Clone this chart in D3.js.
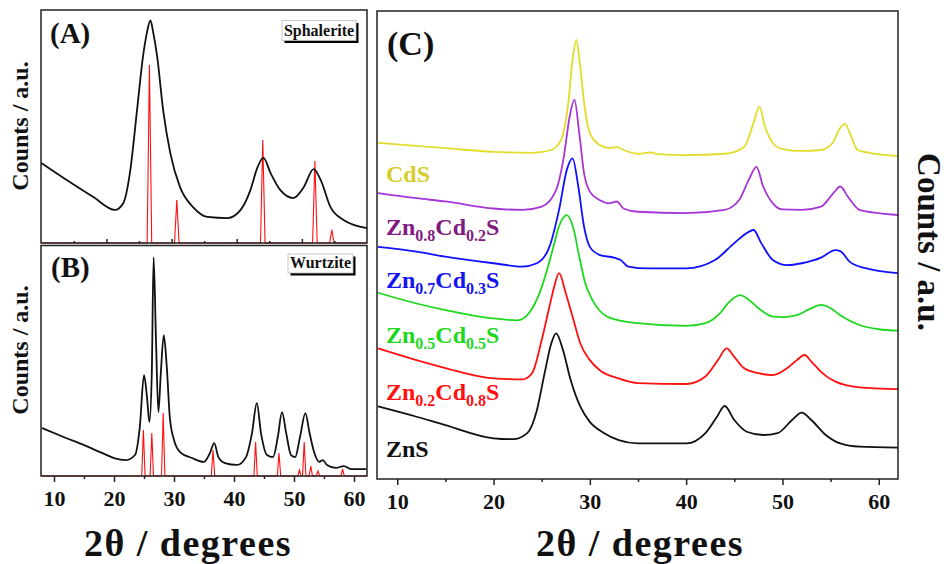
<!DOCTYPE html>
<meta charset="utf-8">
<style>
  body { margin: 0; background: #fff; }
  svg { display: block; }
  text { font-family: "Liberation Serif", "Times New Roman", serif; font-weight: bold; }
  .frame { fill: none; stroke: #222; stroke-width: 1.5px; }
  .axis path { display: none; }
  .axis line { stroke: #222; stroke-width: 1.5px; }
  .axis text { font-size: 22px; fill: #111; font-family: "Liberation Serif", "Times New Roman", serif; }
  .scan { fill: none; stroke-width: 1.8px; stroke-linejoin: round; }
  .ref { fill: none; stroke: #ff1010; stroke-width: 1.1px; }
</style>
<svg width="949" height="564"></svg>
<script src="https://d3js.org/d3.v7.min.js"></script>
<script>

  // ---- data (2theta, counts a.u.) ----

  // (A) sphalerite sample scan + reference pattern
  var sphaleriteScan = [[10, 34.3], [13.9, 27.0], [18.0, 19.7], [21.3, 14.2], [22.6, 17.2], [23.6, 30.0],
    [24.7, 57.1], [25.6, 79.8], [26.2, 90.1], [26.75, 95.5], [27.2, 90.1], [27.8, 79.8], [28.7, 57.1],
    [29.8, 38.6], [31.3, 24.0], [33.3, 15.4], [35.5, 11.2], [38.6, 10.7], [40.6, 14.2], [42.1, 22.7],
    [43.2, 32.6], [44.1, 36.5], [45.2, 30.0], [46.7, 22.7], [48.7, 19.3], [50.3, 24.0], [51.8, 31.7],
    [52.9, 27.0], [54.4, 15.4], [56.4, 9.9], [60, 6.4]];
  var sphaleriteRef = [[26.6, 76.4], [30.8, 18.4], [44.0, 44.2], [52.0, 35.2], [54.6, 5.6]];

  // (B) wurtzite sample scan + reference pattern
  var wurtziteScan = [[8, 20.8], [12, 16.5], [15, 13.4], [18, 10.0], [20, 7.8], [22, 6.9], [23.5, 9.1],
    [24.3, 21.2], [25.0, 43.7], [25.5, 34.2], [25.9, 23.4], [26.3, 44.6], [26.6, 94.8], [27.0, 58.9],
    [27.4, 27.7], [27.8, 44.6], [28.3, 61.1], [28.8, 47.2], [29.3, 25.5], [30, 15.6], [31, 10.4],
    [33, 7.8], [35, 6.1], [36, 10.0], [36.7, 14.3], [37.4, 8.2], [38.5, 5.6], [40.5, 4.8], [42, 8.2],
    [43, 18.6], [43.8, 31.6], [44.5, 18.6], [45.5, 9.1], [46.5, 8.2], [47.3, 16.9], [48, 27.7],
    [48.7, 18.6], [49.5, 9.1], [50.2, 8.2], [51, 16.9], [51.9, 27.3], [52.6, 18.6], [53.4, 10.0],
    [54.2, 6.1], [54.8, 6.9], [55.5, 4.8], [57, 3.5], [58.3, 4.3], [59.5, 3.0], [62, 3.0]];
  var wurtziteRef = [[24.9, 19.9], [26.3, 18.6], [28.2, 27.3], [36.5, 11.3], [43.6, 14.7], [47.5, 10.0],
    [50.9, 2.6], [51.7, 14.7], [52.8, 4.3], [54.0, 2.2], [58.1, 3.0]];

  // (C) stacked scans, top to bottom
  var cdsScan = [[8, 71.8], [15, 70.7], [20, 69.9], [24, 69.7], [26, 70.3], [27, 72.4], [27.8, 81.0],
    [28.2, 89.5], [28.6, 93.8], [29.0, 88.0], [29.5, 78.9], [30, 73.9], [31, 71.4], [32, 70.7],
    [32.8, 70.9], [33.5, 70.3], [35, 69.5], [36.4, 69.8], [37, 69.4], [40, 69.2], [44, 69.5], [46, 70.9],
    [47, 76.1], [47.6, 79.5], [48.2, 75.2], [49, 71.8], [50, 70.5], [52, 70.1], [54, 70.3], [55.2, 71.8],
    [56, 75.0], [56.5, 75.9], [57, 73.9], [57.8, 70.3], [59, 69.7], [62, 69.0]];
  var zn08Scan = [[8, 61.1], [12, 60.0], [15, 59.3], [20, 57.8], [23, 57.5], [25, 58.2], [26.5, 61.8],
    [27.3, 68.9], [27.9, 77.4], [28.4, 81.0], [28.9, 73.9], [29.4, 65.3], [30, 61.4], [31, 59.6],
    [32, 58.9], [32.8, 59.3], [33.5, 57.8], [35, 57.1], [40, 56.8], [44, 57.5], [45.5, 59.6], [46.5, 63.9],
    [47.3, 66.7], [48, 62.5], [49, 58.9], [50, 57.6], [52, 57.5], [54, 58.2], [55.3, 61.1], [56, 62.5],
    [56.8, 60.3], [58, 57.5], [60, 56.8], [62, 56.4]];
  var zn07Scan = [[8, 49.6], [12, 48.6], [15, 47.5], [20, 46.1], [23, 45.4], [24.5, 46.1], [25.8, 49.6],
    [26.8, 57.5], [27.6, 66.0], [28.2, 68.5], [28.8, 62.5], [29.4, 53.9], [30, 49.6], [31, 47.9],
    [32.5, 47.3], [33.2, 46.8], [34, 45.4], [36, 45.0], [40, 45.0], [43, 46.8], [45, 50.4], [46.5, 52.8],
    [47, 53.2], [47.8, 50.4], [49, 46.8], [50.5, 45.7], [52, 46.1], [54, 47.3], [55.5, 48.9], [56, 48.7],
    [57, 46.4], [58.5, 45.1], [62, 44.0]];
  var zn05Scan = [[8, 39.8], [12, 37.5], [15, 36.1], [20, 34.3], [22.5, 33.9], [23.5, 35.0], [24.3, 37.5],
    [25.0, 41.0], [25.6, 45.0], [26.2, 49.5], [26.8, 54.0], [27.6, 56.4], [28.3, 53.5], [28.9, 47.5],
    [29.5, 42.0], [30.2, 38.5], [31, 36.0], [32, 34.5], [35, 33.3], [40, 32.7], [42, 33.3], [43.5, 35.4],
    [44.5, 37.9], [45.6, 39.3], [46.5, 38.3], [47.5, 36.5], [49, 34.7], [50, 34.6], [51.5, 35.0],
    [53, 36.5], [54, 37.2], [55, 36.5], [56, 35.0], [58, 32.9], [60, 32.0], [62, 31.7]];
  var zn02Scan = [[8, 27.9], [12, 25.4], [15, 23.7], [20, 21.5], [23, 21.3], [24, 22.6], [25, 29.7],
    [25.8, 36.8], [26.3, 41.1], [26.8, 44.0], [27.5, 39.7], [28.3, 34.0], [29, 29.0], [30, 25.4],
    [31, 23.3], [33, 21.5], [35, 20.5], [40, 20.3], [42, 21.9], [43.3, 25.4], [44.2, 27.9], [45, 26.1],
    [46, 23.7], [47.5, 22.6], [49, 22.2], [50.5, 23.7], [51.5, 25.4], [52.3, 26.5], [53, 25.1],
    [54, 22.9], [55.5, 20.8], [58, 19.6], [62, 19.2]];
  var znsScan = [[8, 15.5], [12, 13.3], [15, 11.5], [20, 8.7], [22, 8.5], [23.5, 9.8], [24.5, 14.7],
    [25.3, 22.6], [26, 29.0], [26.5, 31.1], [27.2, 27.6], [28, 21.2], [29, 15.5], [30, 12.2], [31.5, 9.8],
    [33, 8.3], [35, 7.6], [40, 7.6], [42, 9.8], [43.2, 13.3], [44, 15.6], [45, 12.6], [46.3, 10.1],
    [48, 9.4], [49.5, 9.8], [51, 12.6], [52, 14.2], [53, 12.6], [54.5, 9.4], [56, 7.6], [58, 6.9],
    [62, 6.7]];

  var sampleNames = ["CdS", "Zn0.8Cd0.2S", "Zn0.7Cd0.3S", "Zn0.5Cd0.5S", "Zn0.2Cd0.8S", "ZnS"];
  var sampleScans = [cdsScan, zn08Scan, zn07Scan, zn05Scan, zn02Scan, znsScan];

  var majorTicks = [10, 20, 30, 40, 50, 60];
  var minorTicks = [15, 25, 35, 45, 55];

  // ---- styles ----
  var lineColors = ["#e2dc2a", "#a636d8", "#1010ff", "#1ed81e", "#ff1010", "#111"];
  var labelColors = ["#d6cc2c", "#801a80", "#1414ee", "#1ed81e", "#ff1010", "#111"];
  var labelBaselines = [182, 235, 288, 343, 400, 457];

  var svg = d3.select("svg");

  // panel boxes
  var pA = { x0: 41, x1: 367, y0: 10, y1: 243 },
    pB = { x0: 41, x1: 367, y0: 245.5, y1: 476 },
    pC = { x0: 377, x1: 898, y0: 11, y1: 479 };

  var xA = d3.scaleLinear().domain([10, 60]).range([41.3, 367]),
    yA = d3.scaleLinear().domain([0, 100]).range([pA.y1, pA.y0]);
  var xB = d3.scaleLinear().domain([8, 62]).range([42, 366]),
    yB = d3.scaleLinear().domain([0, 100]).range([pB.y1, pB.y0]);
  var xC = d3.scaleLinear().domain([8, 62]).range([378, 898]),
    yC = d3.scaleLinear().domain([0, 100]).range([pC.y1, pC.y0]);

  function lineGen(x, y) {
    return d3.line().x(function (d) { return x(d[0]); }).y(function (d) { return y(d[1]); })
      .curve(d3.curveMonotoneX);
  }

  // reference pattern: baseline with narrow spikes
  function refPoints(sticks, domain, hw) {
    var pts = [[domain[0], 0]];
    sticks.slice().sort(function (a, b) { return a[0] - b[0]; }).forEach(function (s) {
      pts.push([s[0] - hw, 0], [s[0], s[1]], [s[0] + hw, 0]);
    });
    pts.push([domain[1], 0]);
    return pts;
  }

  function refLine(x, y) {
    return d3.line().x(function (d) { return x(d[0]); }).y(function (d) { return y(d[1]); });
  }

  function frame(p) {
    svg.append("rect").attr("class", "frame")
      .attr("x", p.x0).attr("y", p.y0).attr("width", p.x1 - p.x0).attr("height", p.y1 - p.y0);
  }

  function ticks(x, yPos, size, labels, vals) {
    var ax = d3.axisBottom(x).tickValues(vals).tickSize(size).tickPadding(8);
    if (!labels) ax.tickFormat("");
    svg.append("g").attr("class", "axis").attr("transform", "translate(0," + yPos + ")").call(ax);
  }

  function tag(txt, x, y, size) {
    svg.append("text").attr("x", x).attr("y", y).attr("font-size", size).attr("fill", "#111").text(txt);
  }

  function boxLabel(txt, x, y, w, h) {
    svg.append("rect").attr("x", x + 2.5).attr("y", y + 2.5).attr("width", w).attr("height", h).attr("fill", "#000");
    svg.append("rect").attr("x", x).attr("y", y).attr("width", w).attr("height", h)
      .attr("fill", "#fff").attr("stroke", "#bbb").attr("stroke-width", 0.8);
    svg.append("text").attr("x", x + w / 2).attr("y", y + h - 5).attr("text-anchor", "middle")
      .attr("font-size", 16).attr("fill", "#111").text(txt);
  }

  function yTitle(x, y, rot, size) {
    svg.append("text").attr("transform", "translate(" + x + "," + y + ") rotate(" + rot + ")")
      .attr("text-anchor", "middle").attr("font-size", size).attr("fill", "#111").text("Counts / a.u.");
  }

  function xTitle(cx) {
    svg.append("text").attr("x", cx).attr("y", 556).attr("text-anchor", "middle")
      .attr("font-size", 38).attr("letter-spacing", 1.5).attr("fill", "#111").text("2θ / degrees");
  }

  // ---- (A) ----
  svg.append("path").attr("class", "ref").attr("d", refLine(xA, yA)(refPoints(sphaleriteRef, [10, 60], 0.35)));
  svg.append("path").attr("class", "scan").attr("stroke", "#111").attr("stroke-width", 1.8)
    .attr("d", lineGen(xA, yA)(sphaleriteScan));
  ticks(xA, pA.y1, -4, false, [20, 30, 40, 50]);
  ticks(xA, pA.y1, -2, false, minorTicks);
  frame(pA);
  tag("(A)", 50, 43, 29);
  boxLabel("Sphalerite", 282, 20.5, 74, 20);
  yTitle(28, 126, -90, 24);

  // ---- (B) ----
  svg.append("path").attr("class", "ref").attr("d", refLine(xB, yB)(refPoints(wurtziteRef, [8, 62], 0.28)));
  svg.append("path").attr("class", "scan").attr("stroke", "#111").attr("stroke-width", 1.3)
    .attr("d", lineGen(xB, yB)(wurtziteScan));
  ticks(xB, pB.y1, 6, true, majorTicks);
  ticks(xB, pB.y1, 3, false, minorTicks);
  frame(pB);
  tag("(B)", 51, 277, 29);
  boxLabel("Wurtzite", 288, 254, 65, 19);
  yTitle(28, 350, -90, 24);
  xTitle(188);

  // ---- (C) ----
  sampleScans.forEach(function (s, i) {
    svg.append("path").attr("class", "scan").attr("stroke", lineColors[i])
      .attr("d", lineGen(xC, yC)(s));
  });
  ticks(xC, pC.y1, 6, true, majorTicks);
  ticks(xC, pC.y1, 3, false, minorTicks);
  frame(pC);
  tag("(C)", 387, 55, 34);

  // sample labels with numeric subscripts
  sampleNames.forEach(function (name, i) {
    var t = svg.append("text").attr("x", 386).attr("y", labelBaselines[i])
      .attr("font-size", 24).attr("fill", labelColors[i]);
    var shifted = false;
    name.match(/[A-Za-z]+|[0-9.]+/g).forEach(function (p) {
      var sub = /^[0-9.]/.test(p);
      var dy = sub === shifted ? 0 : (sub ? 6 : -6);
      shifted = sub;
      t.append("tspan").attr("font-size", sub ? 16 : 24).attr("dy", dy).text(p);
    });
  });

  xTitle(640);
  yTitle(918, 242, 90, 33);

</script>
